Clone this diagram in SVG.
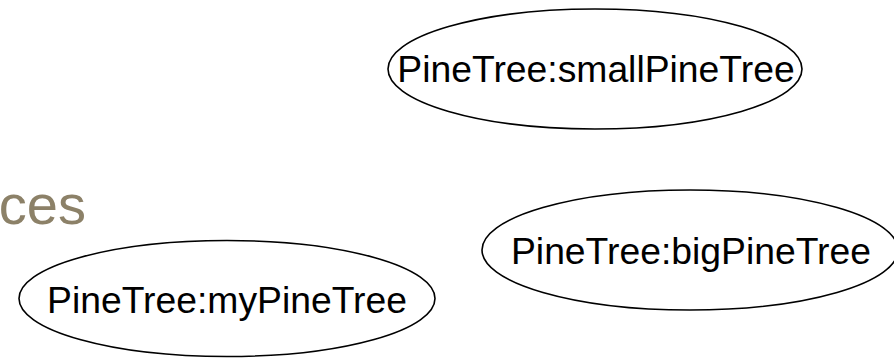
<svg xmlns="http://www.w3.org/2000/svg" width="894" height="358" viewBox="0 0 894 358">
  <style>
    .obj { fill: #ffffff; stroke: #000000; stroke-width: 1.6; }
    .lbl { font-family: "Liberation Sans", Arial, sans-serif; font-size: 37.3px; fill: #000000; text-anchor: middle; }
    .title { font-family: "Liberation Sans", Arial, sans-serif; font-size: 56px; fill: #8c8168; text-anchor: end; }
  </style>
  <rect width="894" height="358" fill="#ffffff"/>
  <text class="title" x="86" y="224">ces</text>
  <g id="connectors"></g>
  <g id="smallPineTree">
    <ellipse class="obj" cx="595" cy="69" rx="207" ry="60"/>
    <text class="lbl" x="596" y="82">PineTree:smallPineTree</text>
  </g>
  <g id="bigPineTree">
    <ellipse class="obj" cx="690" cy="250" rx="208" ry="60"/>
    <text class="lbl" x="691" y="264">PineTree:bigPineTree</text>
  </g>
  <g id="myPineTree">
    <ellipse class="obj" cx="227" cy="298.5" rx="208" ry="58"/>
    <text class="lbl" x="227" y="313">PineTree:myPineTree</text>
  </g>
</svg>
